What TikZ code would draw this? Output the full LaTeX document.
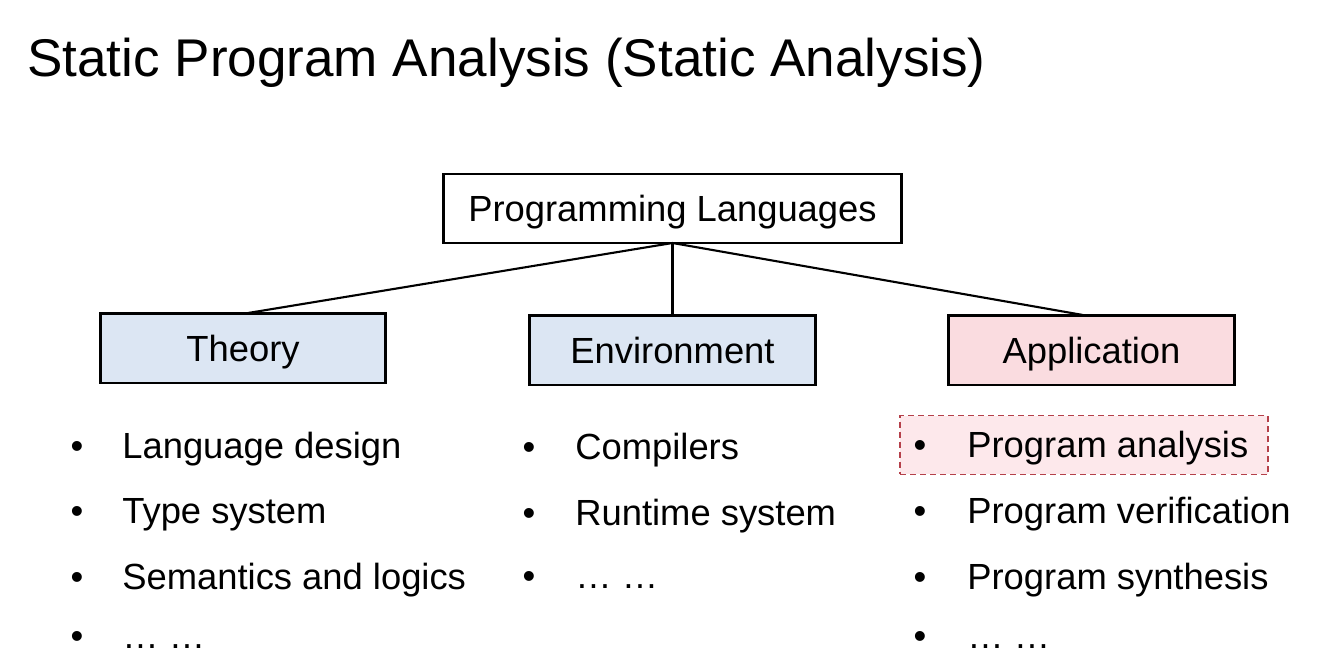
\documentclass[tikz,border=0pt]{standalone}
\usepackage{fontspec}
\setmainfont{Liberation Sans}
\definecolor{catblue}{HTML}{DCE6F3}
\definecolor{catpink}{HTML}{FADCE0}
\definecolor{hlfill}{HTML}{FDE8EB}
\definecolor{hledge}{HTML}{B5404A}
\begin{document}
\begin{tikzpicture}[x=0.02cm,y=-0.02cm,
  txt/.style={font=\fontsize{20.7}{24}\selectfont},
  cat/.style={txt, draw=black, line width=1.7pt, minimum width=5.72cm,
    minimum height=1.4cm, inner sep=0pt, outer sep=0pt,
    text height=14.8pt, text depth=0pt},
  item/.style={txt, anchor=base west, inner sep=0pt},
  bul/.style={txt, anchor=base, inner sep=0pt},
  link/.style={line width=1.2pt},
  highlight/.style={draw=hledge, fill=hlfill, line width=0.8pt,
    dash pattern=on 3.4pt off 2.3pt, inner sep=0pt, minimum width=7.36cm,
    minimum height=1.18cm}]
\useasboundingbox (0,0) rectangle (1324,662);

% heading
\node[anchor=base west, inner sep=0pt, font=\fontsize{30.2}{36}\selectfont]
  (title) at (27,77) {Static Program Analysis (Static Analysis)};

% category tree
\node[cat, minimum width=9.18cm, minimum height=1.38cm] (pl) at (672.5,208.5) {Programming Languages};
\node[cat, fill=catblue] (th)  at (243,348)    {Theory};
\node[cat, fill=catblue] (env) at (672.5,350)  {Environment};
\node[cat, fill=catpink] (app) at (1091.5,350) {Application};

\draw[link] (pl.south) -- ([xshift=0.1cm]th.north);
\draw[link] (pl.south) -- (env.north);
\draw[link] (pl.south) -- ([xshift=-0.17cm]app.north);

% emphasis behind the first application item
\node[highlight] (hl) at (1084,445) {};

% Theory items
\node[bul] (tb1) at (77,458) {•};  \node[item] (ti1) at (122,458) {Language design};
\node[bul] (tb2) at (77,523) {•};  \node[item] (ti2) at (122,523) {Type system};
\node[bul] (tb3) at (77,589) {•};  \node[item] (ti3) at (122,589) {Semantics and logics};
\node[bul] (tb4) at (77,648) {•};  \node[item] (ti4) at (122,648) {… …};

% Environment items
\node[bul] (eb1) at (529,459) {•}; \node[item] (ei1) at (575,459) {Compilers};
\node[bul] (eb2) at (529,525) {•}; \node[item] (ei2) at (575,525) {Runtime system};
\node[bul] (eb3) at (529,588) {•}; \node[item] (ei3) at (575,588) {… …};

% Application items
\node[bul] (ab1) at (920,457) {•}; \node[item] (ai1) at (967,457) {Program analysis};
\node[bul] (ab2) at (920,523) {•}; \node[item] (ai2) at (967,523) {Program verification};
\node[bul] (ab3) at (920,589) {•}; \node[item] (ai3) at (967,589) {Program synthesis};
\node[bul] (ab4) at (920,648) {•}; \node[item] (ai4) at (967,648) {… …};
\end{tikzpicture}
\end{document}
